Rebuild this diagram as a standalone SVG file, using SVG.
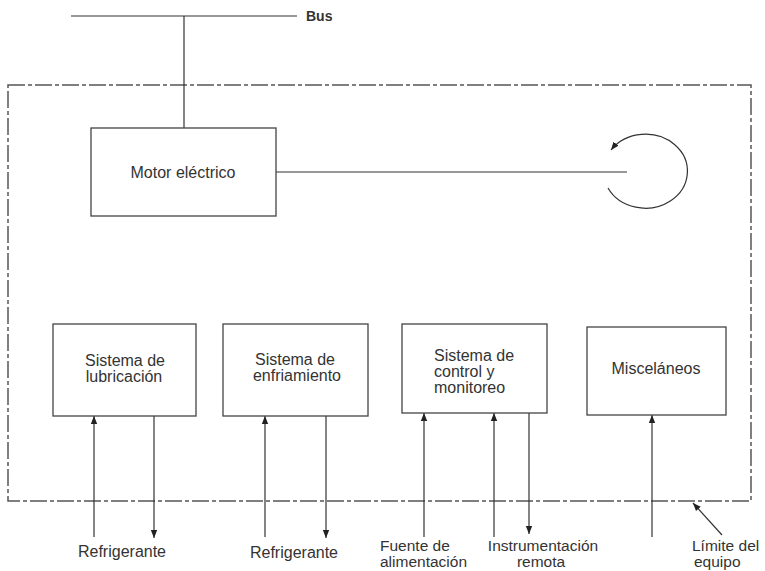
<svg xmlns="http://www.w3.org/2000/svg" width="765" height="571" viewBox="0 0 765 571">
<style>
.t{font-family:"Liberation Sans",Arial,sans-serif;font-size:16px;fill:#333}
.s{font-size:15.5px}
.c{text-anchor:middle}
.b{fill:#fff;stroke:#444;stroke-width:1.3}
.l{stroke:#333;stroke-width:1.2;fill:none}
.d{stroke:#555;stroke-width:1.5;fill:none;stroke-dasharray:17,3,4,3}
</style>
<defs>
<marker id="ah" viewBox="0 0 10 10" refX="10" refY="5" markerWidth="8" markerHeight="8" markerUnits="userSpaceOnUse" orient="auto">
<path d="M0,1 L10,5 L0,9 Z" fill="#222"/>
</marker>
</defs>
<rect id="limite" class="d" x="8" y="85" width="743" height="416"/>
<g id="connectors">
<line class="l" x1="71" y1="16" x2="297" y2="16"/>
<line class="l" x1="184" y1="16" x2="184" y2="128"/>
<line class="l" x1="276" y1="172" x2="627" y2="172"/>
<path class="l" d="M608,188 A42,37 0 1 0 611,150" marker-end="url(#ah)"/>
<line class="l" x1="94" y1="537" x2="94" y2="416" marker-end="url(#ah)"/>
<line class="l" x1="154" y1="416" x2="154" y2="538" marker-end="url(#ah)"/>
<line class="l" x1="265" y1="537" x2="265" y2="416" marker-end="url(#ah)"/>
<line class="l" x1="326" y1="416" x2="326" y2="538" marker-end="url(#ah)"/>
<line class="l" x1="424" y1="537" x2="424" y2="413" marker-end="url(#ah)"/>
<line class="l" x1="494" y1="537" x2="494" y2="413" marker-end="url(#ah)"/>
<line class="l" x1="529" y1="413" x2="529" y2="534" marker-end="url(#ah)"/>
<line class="l" x1="652" y1="537" x2="652" y2="415" marker-end="url(#ah)"/>
<line class="l" x1="722" y1="535" x2="693" y2="503" marker-end="url(#ah)"/>
</g>
<text class="t" x="306" y="21" style="font-weight:bold;font-size:14px">Bus</text>
<g id="motor">
<rect class="b" x="91" y="128" width="185" height="88"/>
<text class="t c" x="183" y="178">Motor eléctrico</text>
</g>
<g id="lubricacion">
<rect class="b" x="53" y="324" width="143" height="92"/>
<text class="t c" x="125" y="366">Sistema de</text>
<text class="t c" x="124" y="382">lubricación</text>
</g>
<g id="enfriamiento">
<rect class="b" x="223" y="324" width="145" height="92"/>
<text class="t c" x="295" y="365">Sistema de</text>
<text class="t c" x="297" y="381">enfriamiento</text>
</g>
<g id="control">
<rect class="b" x="402" y="324" width="145" height="89"/>
<text class="t" x="434" y="361">Sistema de</text>
<text class="t" x="434" y="377">control y</text>
<text class="t" x="434" y="393">monitoreo</text>
</g>
<g id="miscelaneos">
<rect class="b" x="587" y="327" width="139" height="88"/>
<text class="t c" x="656" y="374">Misceláneos</text>
</g>
<g id="labels">
<text class="t c" x="122" y="557">Refrigerante</text>
<text class="t c" x="294" y="558">Refrigerante</text>
<text class="t s" x="380" y="551">Fuente de</text>
<text class="t s" x="380" y="567">alimentación</text>
<text class="t s c" x="543" y="551">Instrumentación</text>
<text class="t s c" x="541" y="567">remota</text>
<text class="t s" x="692" y="551">Límite del</text>
<text class="t s" x="694" y="567">equipo</text>
</g>
</svg>
